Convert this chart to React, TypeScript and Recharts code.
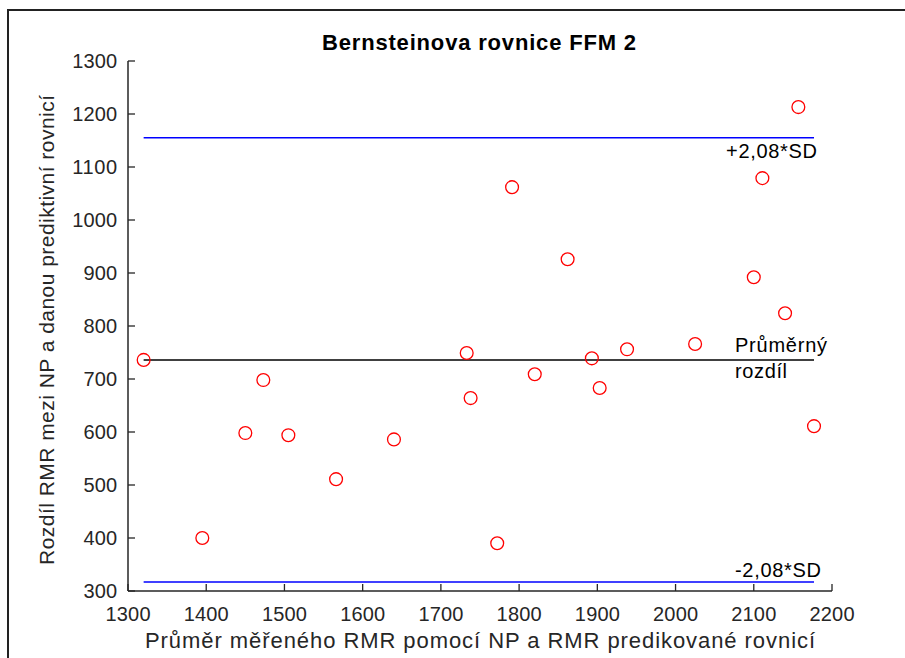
import { ReferenceLine, Scatter, ScatterChart, XAxis, YAxis } from "recharts";

// mean of measured (NP) and predicted RMR
const meanRmr = [1320, 1395, 1450, 1473, 1505, 1566, 1640, 1733, 1738, 1772, 1791, 1820, 1862, 1893, 1903, 1938, 2025, 2100, 2111, 2157, 2140, 2177];
// difference NP - equation
const diffRmr = [736, 400, 598, 698, 594, 511, 586, 749, 664, 390, 1062, 709, 926, 739, 683, 756, 766, 892, 1079, 1213, 824, 611];

const xTicks = [1300, 1400, 1500, 1600, 1700, 1800, 1900, 2000, 2100, 2200];
const yTicks = [300, 400, 500, 600, 700, 800, 900, 1000, 1100, 1200, 1300];

const meanDiff = 736;
const upperSd = 1155;
const lowerSd = 317;

const FONT = "'Liberation Sans', Arial, Helvetica, sans-serif";
const AXIS = "#262626";

const points = meanRmr.map((x, i) => ({ x, y: diffRmr[i] }));
const xMin = Math.min(...meanRmr);
const xMax = Math.max(...meanRmr);

const XTick = (props: any) => {
  const { x, y, payload } = props;
  // tickSize 0, tickMargin 10 -> axis sits 10px above y
  return (
    <g>
      <line x1={x} x2={x} y1={y - 10} y2={y - 17} stroke={AXIS} strokeWidth={1.3} />
      <text x={x} y={y + 20} textAnchor="middle" fill={AXIS} fontSize={20} fontFamily={FONT} textLength={45} lengthAdjust="spacing">
        {payload.value}
      </text>
    </g>
  );
};

const YTick = (props: any) => {
  const { x, y, payload } = props;
  const s = String(payload.value);
  return (
    <g>
      <line x1={x + 11} x2={x + 18} y1={y} y2={y} stroke={AXIS} strokeWidth={1.3} />
      <text x={x} y={y + 7} textAnchor="end" fill={AXIS} fontSize={20} fontFamily={FONT} textLength={s.length * 11.2} lengthAdjust="spacing">
        {s}
      </text>
    </g>
  );
};

const Circle = (props: any) => (
  <circle cx={props.cx} cy={props.cy} r={6.4} fill="none" stroke="#ff0000" strokeWidth={1.3} />
);

const lineLabel = (lines: string[], anchor: string, dx: number, dys: number[], lens: number[]) => (props: any) => {
  const vb = props.viewBox || {};
  const endX = (vb.x ?? 0) + (vb.width ?? 0);
  const y = vb.y ?? 0;
  return (
    <g>
      {lines.map((t, i) => (
        <text
          key={i}
          x={endX + dx}
          y={y + dys[i]}
          textAnchor={anchor}
          fill="#000"
          fontSize={20}
          fontFamily={FONT}
          textLength={lens[i]}
          lengthAdjust="spacing"
        >
          {t}
        </text>
      ))}
    </g>
  );
};

export default function App() {
  return (
    <div style={{ position: "absolute", left: 0, top: 0, width: 905, height: 658, overflow: "hidden", background: "#fff" }}>
      <div
        style={{
          position: "absolute",
          left: 7,
          top: 9,
          width: 898,
          height: 649,
          boxSizing: "border-box",
          borderLeft: "2px solid #222",
          borderTop: "2px solid #222",
        }}
      />
      <div style={{ position: "absolute", left: 0, top: 0 }}>
        <ScatterChart width={905} height={658} margin={{ top: 61, right: 73, bottom: 27, left: 58 }}>
          <XAxis
            type="number"
            dataKey="x"
            domain={[1300, 2200]}
            ticks={xTicks}
            allowDataOverflow
            height={40}
            tickSize={0}
            tickMargin={10}
            tick={<XTick />}
            axisLine={{ stroke: AXIS, strokeWidth: 1.5 }}
          />
          <YAxis
            type="number"
            dataKey="y"
            domain={[300, 1300]}
            ticks={yTicks}
            allowDataOverflow
            width={70}
            tickSize={0}
            tickMargin={11}
            tick={<YTick />}
            axisLine={{ stroke: AXIS, strokeWidth: 1.5 }}
          />
          <ReferenceLine
            segment={[{ x: xMin, y: upperSd }, { x: xMax, y: upperSd }]}
            stroke="#0000ff"
            strokeWidth={1.5}
            label={lineLabel(["+2,08*SD"], "end", 3, [20], [91])}
          />
          <ReferenceLine
            segment={[{ x: xMin, y: meanDiff }, { x: xMax, y: meanDiff }]}
            stroke="#000"
            strokeWidth={1.5}
            label={lineLabel(["Průměrný", "rozdíl"], "start", -79, [-8, 18], [92, 52])}
          />
          <ReferenceLine
            segment={[{ x: xMin, y: lowerSd }, { x: xMax, y: lowerSd }]}
            stroke="#0000ff"
            strokeWidth={1.5}
            label={lineLabel(["-2,08*SD"], "end", 7, [-5], [86])}
          />
          <Scatter data={points} shape={<Circle />} isAnimationActive={false} />
        </ScatterChart>
      </div>
      <svg width={905} height={658} style={{ position: "absolute", left: 0, top: 0, pointerEvents: "none" }}>
        <text x={479} y={50} textAnchor="middle" fontSize={22} fontWeight="bold" fontFamily={FONT} fill="#000" textLength={314} lengthAdjust="spacing">
          Bernsteinova rovnice FFM 2
        </text>
        <text x={480} y={648} textAnchor="middle" fontSize={22} fontFamily={FONT} fill={AXIS} textLength={670} lengthAdjust="spacing">
          Průměr měřeného RMR pomocí NP a RMR predikované rovnicí
        </text>
        <text
          x={0}
          y={0}
          transform="translate(54 330) rotate(-90)"
          textAnchor="middle"
          fontSize={21}
          fontFamily={FONT}
          fill={AXIS}
          textLength={470}
          lengthAdjust="spacing"
        >
          Rozdíl RMR mezi NP a danou prediktivní rovnicí
        </text>
      </svg>
    </div>
  );
}
